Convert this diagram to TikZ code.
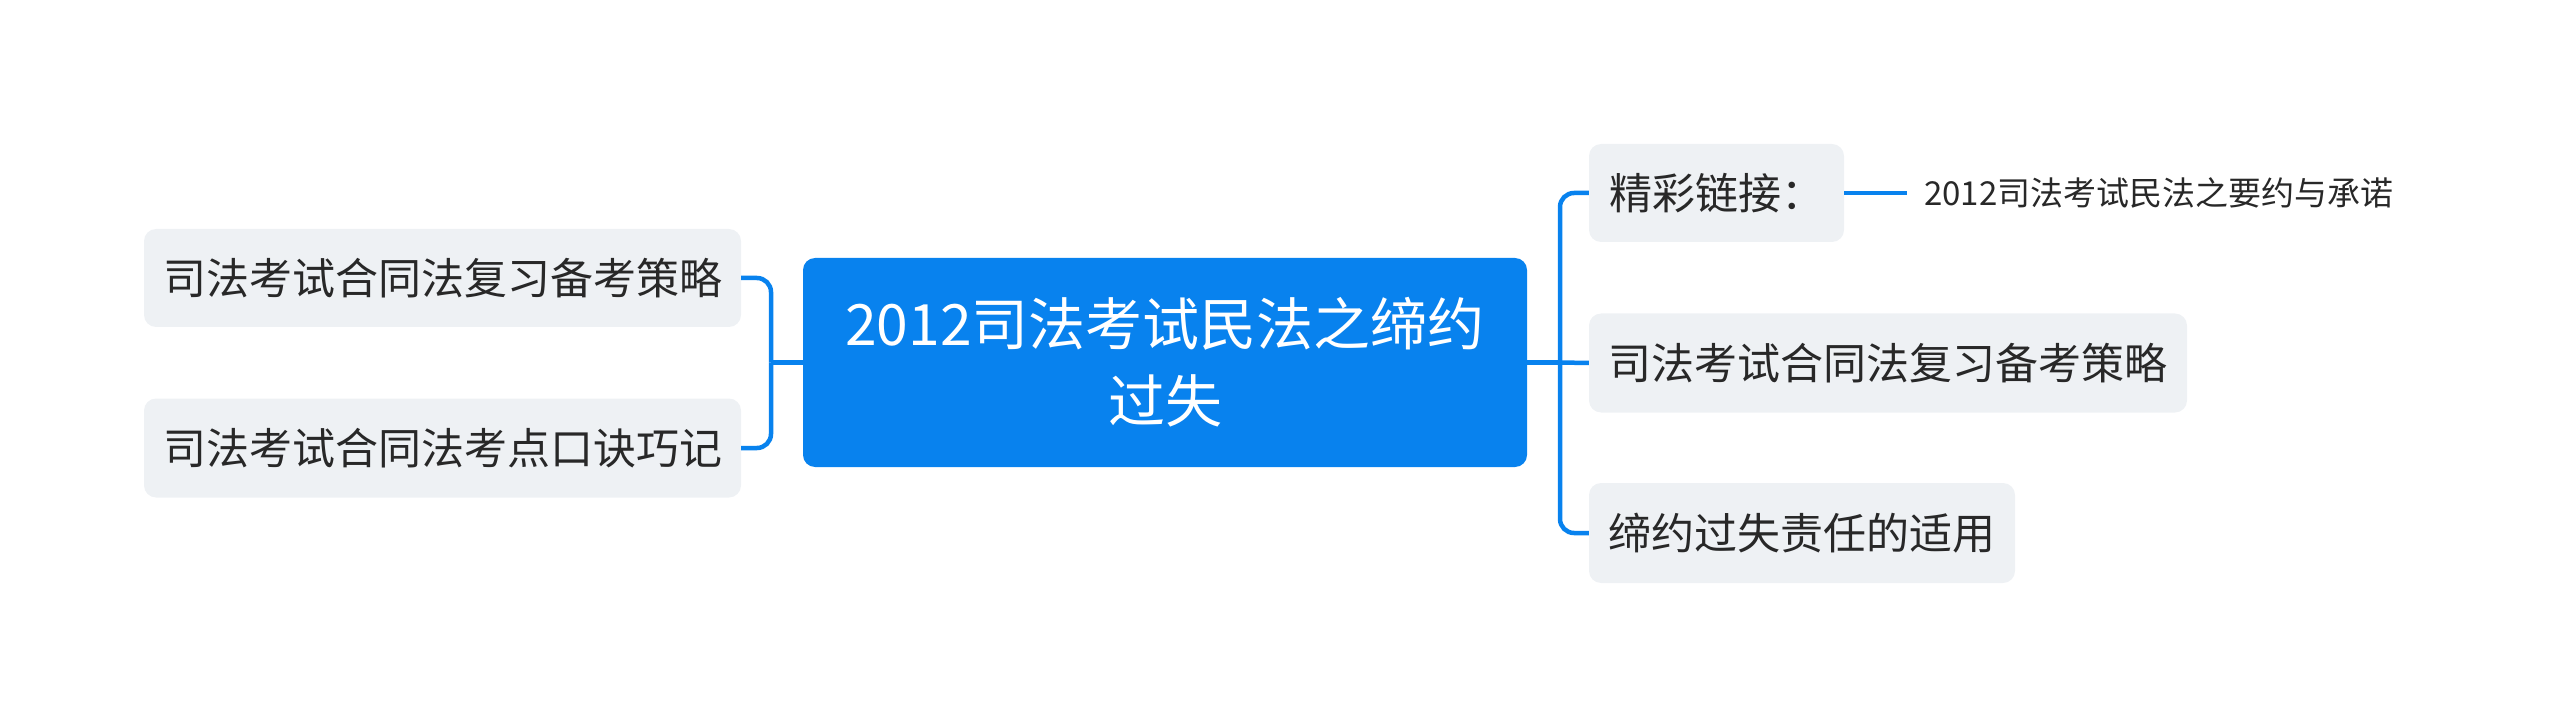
\documentclass[tikz,border=0pt]{standalone}
\usepackage{fontspec}
\setmainfont{Noto Sans CJK SC}
\definecolor{mblue}{RGB}{8,130,238}
\definecolor{nodegray}{RGB}{238,241,244}
\definecolor{txt}{RGB}{40,40,40}
\tikzset{
  topic/.style={fill=nodegray, rounded corners=12pt, text=txt, inner sep=0pt,
    font=\fontsize{43pt}{50pt}\selectfont, text height=38pt, text depth=5pt},
  central/.style={fill=mblue, rounded corners=12pt, text=white, inner sep=0pt, align=center,
    font=\fontsize{57pt}{77pt}\selectfont},
  small/.style={text=txt, inner sep=0pt, anchor=west,
    font=\fontsize{33pt}{40pt}\selectfont, text height=29pt, text depth=4pt},
  conn/.style={draw=mblue, line width=4.5pt, rounded corners=14pt}
}
\begin{document}
\begin{tikzpicture}[x=1pt,y=-1pt]
\useasboundingbox (0,0) rectangle (2560,727);
\node[central, minimum width=724pt, minimum height=209pt] (c) at (1165,362.5)
  {2012司法考试民法之缔约\\过失};
\node[topic, minimum width=597pt, minimum height=98pt] (l1) at (442.5,278) {司法考试合同法复习备考策略};
\node[topic, minimum width=597pt, minimum height=99pt] (l2) at (442.5,448) {司法考试合同法考点口诀巧记};
\node[topic, minimum width=255pt, minimum height=98pt] (r1) at (1716.5,193) {精彩链接：};
\node[topic, minimum width=598pt, minimum height=99pt] (r2) at (1888,363) {司法考试合同法复习备考策略};
\node[topic, minimum width=426pt, minimum height=100pt] (r3) at (1802,533) {缔约过失责任的适用};
\node[small] (s1) at (1924,193) {2012司法考试民法之要约与承诺};
\coordinate (jl) at (771,362.5);
\coordinate (jr) at (1560,362.5);
\draw[conn] (c.west) -- (jl);
\draw[conn] (jl) |- (l1.east);
\draw[conn] (jl) |- (l2.east);
\draw[conn] (c.east) -- (jr);
\draw[conn] (jr) |- (r1.west);
\draw[conn] (jr) -- (r2.west);
\draw[conn] (jr) |- (r3.west);
\draw[conn] (r1.east) -- ([xshift=-17pt]s1.west);
\end{tikzpicture}
\end{document}
